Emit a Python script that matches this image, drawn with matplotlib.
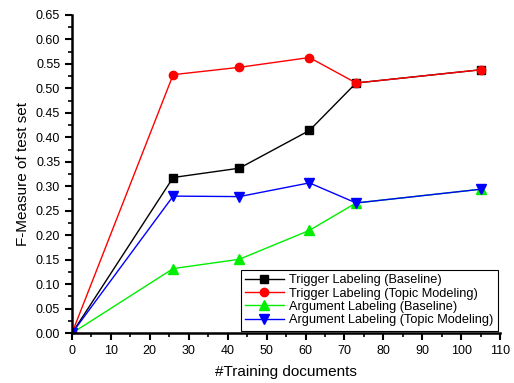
import matplotlib
matplotlib.use("Agg")
import matplotlib.pyplot as plt
from matplotlib.ticker import MultipleLocator

plt.rcParams["font.family"] = ["Liberation Sans", "DejaVu Sans"]

# ===== data =====
docs = [0, 26, 43, 61, 73, 105]
trigger_base = [0.0, 0.318, 0.337, 0.414, 0.511, 0.538]
trigger_topic = [0.0, 0.528, 0.543, 0.563, 0.511, 0.538]
arg_base = [0.0, 0.132, 0.151, 0.210, 0.266, 0.294]
arg_topic = [0.0, 0.280, 0.279, 0.307, 0.266, 0.294]

fig = plt.figure(figsize=(5.14, 3.83), dpi=100)
ax = fig.add_axes([0.140, 0.130, 0.833, 0.831])

ax.plot(docs, trigger_base, color="black", marker="s", ms=5.5, lw=1,
        label="Trigger Labeling (Baseline)")
ax.plot(docs, trigger_topic, color="red", marker="o", ms=6, lw=1,
        label="Trigger Labeling (Topic Modeling)")
ax.plot(docs, arg_base, color="#00ee00", marker="^", ms=6.5, lw=1,
        label="Argument Labeling (Baseline)")
ax.plot(docs, arg_topic, color="blue", marker="v", ms=6.5, lw=1,
        label="Argument Labeling (Topic Modeling)")

ax.set_xlim(0, 110)
ax.set_ylim(0, 0.65)
ax.xaxis.set_major_locator(MultipleLocator(10))
ax.xaxis.set_minor_locator(MultipleLocator(5))
ax.yaxis.set_major_locator(MultipleLocator(0.05))
ax.yaxis.set_minor_locator(MultipleLocator(0.025))
ax.yaxis.set_major_formatter(plt.FormatStrFormatter("%.2f"))

for side in ["top", "right"]:
    ax.spines[side].set_visible(False)
for side in ["left", "bottom"]:
    ax.spines[side].set_linewidth(1.8)
ax.tick_params(which="major", direction="out", length=5, width=1.5, labelsize=9)
ax.tick_params(which="minor", direction="out", length=3, width=1.2)

ax.set_xlabel("#Training documents", fontsize=11, labelpad=6)
ax.set_ylabel("F-Measure of test set", fontsize=11)

leg = ax.legend(loc="lower right", fontsize=9.2, fancybox=False, framealpha=1,
                edgecolor="black", borderaxespad=0.2, handlelength=3,
                labelspacing=0.1, borderpad=0.35, handletextpad=0.4)
leg.get_frame().set_linewidth(0.8)

fig.savefig("out.png", dpi=100)
